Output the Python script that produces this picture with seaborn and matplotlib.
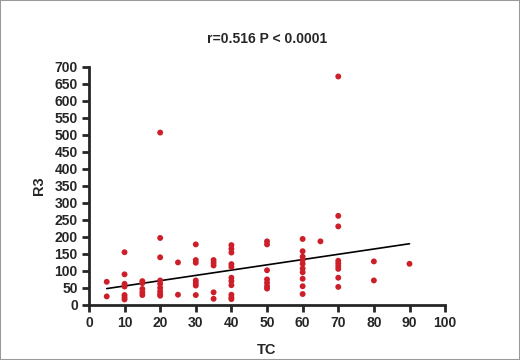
import matplotlib
matplotlib.use("Agg")

import numpy as np
import pandas as pd
import matplotlib.pyplot as plt
import seaborn as sns
from matplotlib.patches import Rectangle


# ===========================
# DATA
# ===========================

TC_5 = [68, 25]
TC_10 = [155, 90, 62, 54, 29, 22, 16]
TC_15 = [70, 64, 47, 37, 29]
TC_20 = [507, 197, 140, 72, 62, 50, 40, 32, 27]
TC_25 = [125, 30]
TC_30 = [178, 132, 124, 72, 64, 57, 29]
TC_35 = [132, 124, 116, 37, 18]
TC_40 = [176, 165, 154, 120, 112, 80, 70, 58, 30, 22, 17]
TC_50 = [187, 178, 102, 75, 65, 55, 48]
TC_60 = [194, 158, 142, 132, 121, 107, 96, 77, 55, 32]
TC_65 = [187]
TC_70 = [672, 262, 231, 130, 122, 114, 106, 80, 53]
TC_80 = [128, 72]
TC_90 = [121]

GROUPS = {
    5: TC_5, 10: TC_10, 15: TC_15, 20: TC_20, 25: TC_25, 30: TC_30,
    35: TC_35, 40: TC_40, 50: TC_50, 60: TC_60, 65: TC_65, 70: TC_70,
    80: TC_80, 90: TC_90,
}

# fitted line as drawn in the source figure (ends)
FIT_TC = [5, 90]
FIT_R3 = [48, 180]

X_TICKS = list(range(0, 101, 10))
Y_TICKS = list(range(0, 701, 50))
TITLE = "r=0.516 P < 0.0001"

DOT_COLOR = "#cc1f2a"


def build_frame():
    rows = []
    for tc, values in GROUPS.items():
        for v in values:
            rows.append({"TC": tc, "R3": v})
    return pd.DataFrame(rows)


def main():
    df = build_frame()
    fit = pd.DataFrame({"TC": FIT_TC, "R3": FIT_R3})

    sns.set_style("ticks")
    plt.rcParams["font.family"] = ["Liberation Sans", "DejaVu Sans"]

    fig = plt.figure(figsize=(5.2, 3.6), dpi=100)
    ax = fig.add_axes([0.171, 0.153, 0.685, 0.661])

    sns.scatterplot(data=df, x="TC", y="R3", ax=ax, s=18, color=DOT_COLOR,
                    edgecolor="none", clip_on=False, zorder=3)
    sns.lineplot(data=fit, x="TC", y="R3", ax=ax, color="black",
                 linewidth=1.2, zorder=2)

    ax.set_xlim(0, 100)
    ax.set_ylim(0, 700)
    ax.set_xticks(X_TICKS)
    ax.set_yticks(Y_TICKS)
    sns.despine(ax=ax)
    for side in ["left", "bottom"]:
        ax.spines[side].set_linewidth(2)
    ax.tick_params(width=2, length=5, labelsize=10, pad=3)
    for lbl in ax.get_xticklabels() + ax.get_yticklabels():
        lbl.set_fontweight("bold")

    ax.set_xlabel("TC", fontsize=10.5, fontweight="bold", labelpad=9)
    ax.set_ylabel("R3", fontsize=10.5, fontweight="bold", labelpad=6)
    ax.set_title(TITLE, fontsize=10, fontweight="bold", pad=17)

    fig.patches.append(Rectangle((0, 0), 1, 1, transform=fig.transFigure,
                                 fill=False, edgecolor="#9a9a9a", linewidth=1.5))

    fig.savefig("out.png", dpi=100)


if __name__ == "__main__":
    main()
